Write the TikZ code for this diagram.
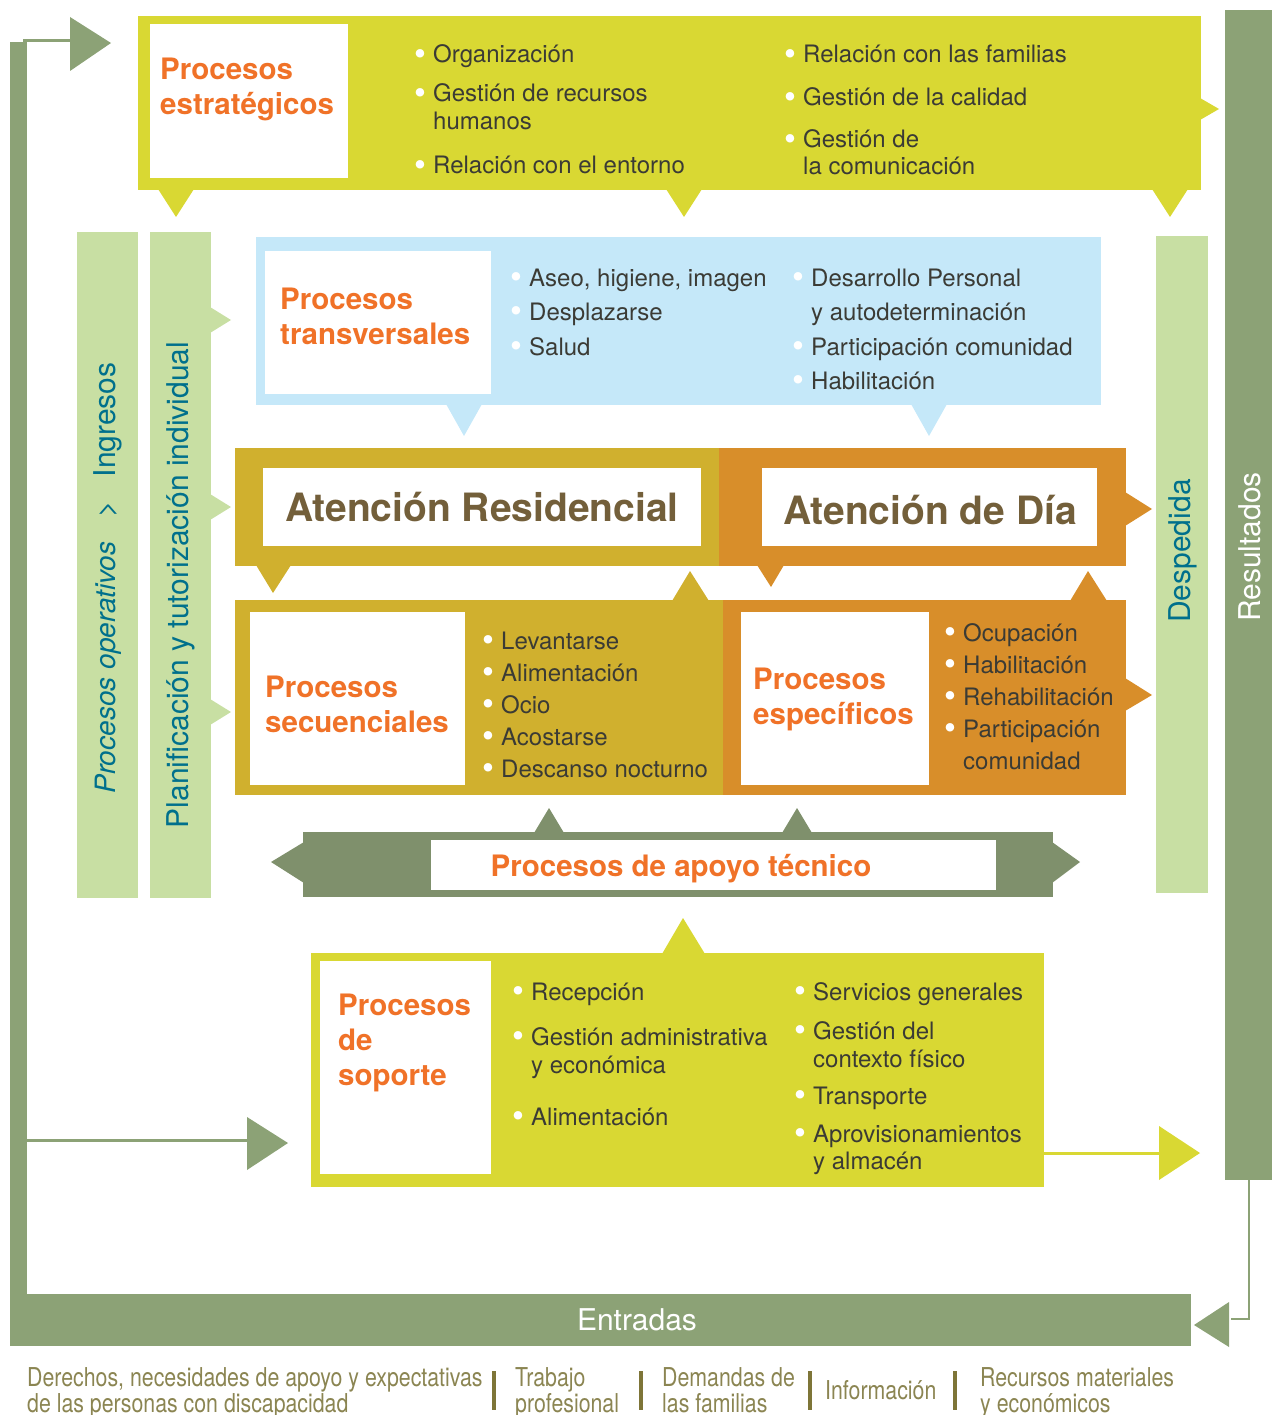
\documentclass[tikz,border=0pt]{standalone}
\usepackage{fontspec}
\setmainfont{TeX Gyre Heros}
\newfontfamily\narrowfont{TeX Gyre Heros}[FakeStretch=0.82]
\usepackage[]{xcolor}
\usepackage{tikz}
\usetikzlibrary{positioning}
\definecolor{estratgreen}{HTML}{D9D833}
\definecolor{titleorange}{HTML}{F07228}
\definecolor{transblue}{HTML}{C5E8F9}
\definecolor{resgold}{HTML}{D0B02E}
\definecolor{diaorange}{HTML}{D88E2A}
\definecolor{atbrown}{HTML}{735F3A}
\definecolor{lightgreen}{HTML}{C8DFA3}
\definecolor{tealtext}{HTML}{00708C}
\definecolor{loopgreen}{HTML}{8CA276}
\definecolor{apoyogreen}{HTML}{7F906C}
\definecolor{entryolive}{HTML}{8B8552}
\definecolor{sepolive}{HTML}{7E7538}
\definecolor{listtext}{HTML}{3B3B35}
\newcommand{\bl}{\makebox[19pt][l]{\raisebox{-2.5pt}{\fontsize{34}{34}\selectfont\textcolor{white}{\textbullet}}}}
\newcommand{\nb}{\hspace*{19pt}}
\tikzset{
		box title/.style={anchor=north west, align=left, inner sep=0pt, text=titleorange, font=\fontsize{29.5}{35}\selectfont\bfseries},
		item/.style={anchor=base west, inner sep=0pt, text=listtext, font=\fontsize{24}{28}\selectfont},
		side label/.style={rotate=90, inner sep=0pt, font=\fontsize{30}{34}\selectfont},
		big label/.style={inner sep=0pt, text=atbrown, font=\fontsize{39}{44}\selectfont\bfseries},
		entry label/.style={anchor=north west, align=left, inner sep=0pt, text=entryolive, font=\narrowfont\fontsize{26}{26}\selectfont}
	}
\begin{document}
\begin{tikzpicture}[x=1pt,y=-1pt]
		\useasboundingbox (0,0) rectangle (1272,1415);

		\fill[loopgreen] (10,42) rectangle (27,1346);
		\fill[loopgreen] (10,1294) rectangle (1191,1346);
		\fill[loopgreen] (1225,10) rectangle (1272,1180);
		\coordinate (loop-top)  at (23,41);
		\coordinate (loop-head) at (72,41);
		\draw[loopgreen, line width=3pt] (loop-top) -- (loop-head);
		\fill[loopgreen] (70,17) -- (111,43) -- (70,71) -- cycle;
		\coordinate (loop-low)  at (27,1140);
		\coordinate (loop-low-head) at (250,1140);
		\draw[loopgreen, line width=3pt] (loop-low) -- (loop-low-head);
		\fill[loopgreen] (247,1117) -- (288,1143) -- (247,1170) -- cycle;
		\coordinate (res-foot) at (1249,1180);
		\coordinate (ent-head) at (1231,1319);
		\draw[loopgreen, line width=2.5pt] (res-foot) |- (ent-head);
		\fill[loopgreen] (1229,1302) -- (1194,1325) -- (1229,1347) -- cycle;
		\node[side label, text=white] (resultados) at (1250,547) {Resultados};
		\node[text=white, inner sep=0pt, font=\fontsize{30}{34}\selectfont] (entradas) at (637,1320) {Entradas};

		\fill[estratgreen] (138,16) rectangle (1201,190);
		\fill[estratgreen] (1200,98) -- (1219,109) -- (1200,120) -- cycle;
		\foreach \px in {176,684,1170}
			\fill[estratgreen] (\px-18,189) -- (\px+18,189) -- (\px,217) -- cycle;
		\fill[white] (150,24) rectangle (348,178);
		\node[box title] (estrat-title) at (160,58) {Procesos\\estratégicos};
		\foreach \txt/\yy [count=\i] in {{\bl Organización}/55, {\bl Gestión de recursos}/94, {\nb humanos}/122, {\bl Relación con el entorno}/166}
			\node[item] (estrat-a\i) at (414,\yy+8) {\txt};
		\foreach \txt/\yy [count=\i] in {{\bl Relación con las familias}/55, {\bl Gestión de la calidad}/98, {\bl Gestión de}/140, {\nb la comunicación}/167}
			\node[item] (estrat-b\i) at (784,\yy+8) {\txt};

		\fill[lightgreen] (77,232) rectangle (138,898);
		\fill[lightgreen] (150,232) rectangle (211,898);
		\foreach \py in {320,507,712}
			\fill[lightgreen] (210,\py-13) -- (231,\py) -- (210,\py+13) -- cycle;
		\node[side label, text=tealtext, font=\fontsize{28}{32}\selectfont] (operativos) at (108,578) {\textit{Procesos operativos}\hspace{24pt}>\hspace{24pt}{\fontsize{30}{32}\selectfont Ingresos}};
		\node[side label, text=tealtext] (planificacion) at (181,585) {Planificación y tutorización individual};
		\fill[lightgreen] (1156,236) rectangle (1208,893);
		\node[side label, text=tealtext] (despedida) at (1183,551) {Despedida};

		\fill[transblue] (256,237) rectangle (1101,405);
		\foreach \px in {464,929}
			\fill[transblue] (\px-18,404) -- (\px+18,404) -- (\px,436) -- cycle;
		\fill[white] (265,251) rectangle (491,394);
		\node[box title] (trans-title) at (280,288) {Procesos\\transversales};
		\foreach \txt/\yy [count=\i] in {{\bl Aseo, higiene, imagen}/278, {\bl Desplazarse}/312, {\bl Salud}/347}
			\node[item] (trans-a\i) at (510,\yy+8) {\txt};
		\foreach \txt/\yy [count=\i] in {{\bl Desarrollo Personal}/278, {\nb y autodeterminación}/312, {\bl Participación comunidad}/347, {\bl Habilitación}/381}
			\node[item] (trans-b\i) at (792,\yy+8) {\txt};

		\fill[resgold] (235,448) rectangle (719,566);
		\fill[resgold] (256,565) -- (291,565) -- (273,593) -- cycle;
		\fill[white] (263,468) rectangle (701,546);
		\node[big label] (residencial) at (482,507) {Atención Residencial};
		\fill[diaorange] (719,448) rectangle (1126,566);
		\fill[diaorange] (1125,492) -- (1152,509) -- (1125,526) -- cycle;
		\fill[diaorange] (757,565) -- (784,565) -- (771,587) -- cycle;
		\fill[white] (762,468) rectangle (1097,546);
		\node[big label] (dia) at (930,510) {Atención de Día};

		\fill[resgold] (235,600) rectangle (723,795);
		\fill[resgold] (672,601) -- (690,571) -- (709,601) -- cycle;
		\fill[white] (250,612) rectangle (465,785);
		\node[box title] (sec-title) at (265,676) {Procesos\\secuenciales};
		\foreach \txt/\yy [count=\i] in {{\bl Levantarse}/641, {\bl Alimentación}/673, {\bl Ocio}/705, {\bl Acostarse}/737, {\bl Descanso nocturno}/769}
			\node[item] (sec-\i) at (482,\yy+8) {\txt};
		\fill[diaorange] (723,600) rectangle (1126,795);
		\fill[diaorange] (1070,601) -- (1088,571) -- (1107,601) -- cycle;
		\fill[diaorange] (1125,678) -- (1152,695) -- (1125,711) -- cycle;
		\fill[white] (741,612) rectangle (929,785);
		\node[box title] (esp-title) at (753,668) {Procesos\\específicos};
		\foreach \txt/\yy [count=\i] in {{\bl Ocupación}/633, {\bl Habilitación}/665, {\bl Rehabilitación}/697, {\bl Participación}/729, {\nb comunidad}/761}
			\node[item] (esp-\i) at (944,\yy+8) {\txt};

		\fill[apoyogreen] (303,832) rectangle (1053,897);
		\fill[apoyogreen] (304,842) -- (271,862) -- (304,883) -- cycle;
		\fill[apoyogreen] (1052,842) -- (1080,862) -- (1052,883) -- cycle;
		\foreach \px in {549,797}
			\fill[apoyogreen] (\px-15,833) -- (\px,808) -- (\px+15,833) -- cycle;
		\fill[white] (431,840) rectangle (996,890);
		\node[box title, anchor=center] (apoyo-title) at (681,869) {Procesos de apoyo técnico};

		\fill[estratgreen] (311,953) rectangle (1044,1187);
		\fill[estratgreen] (662,954) -- (683,918) -- (705,954) -- cycle;
		\fill[white] (320,961) rectangle (491,1174);
		\node[box title] (sop-title) at (338,994) {Procesos\\de\\soporte};
		\foreach \txt/\yy [count=\i] in {{\bl Recepción}/992, {\bl Gestión administrativa}/1037, {\nb y económica}/1065, {\bl Alimentación}/1117}
			\node[item] (sop-a\i) at (512,\yy+8) {\txt};
		\foreach \txt/\yy [count=\i] in {{\bl Servicios generales}/992, {\bl Gestión del}/1031, {\nb contexto físico}/1059, {\bl Transporte}/1096, {\bl Aprovisionamientos}/1134, {\nb y almacén}/1161}
			\node[item] (sop-b\i) at (794,\yy+8) {\txt};
		\coordinate (sop-out) at (1044,1153);
		\coordinate (sop-head) at (1161,1153);
		\draw[estratgreen, line width=3pt] (sop-out) -- (sop-head);
		\fill[estratgreen] (1159,1126) -- (1200,1153) -- (1159,1180) -- cycle;

		\node[entry label] (derechos) at (27,1367) {Derechos, necesidades de apoyo y expectativas\\de las personas con discapacidad};
		\node[entry label] (trabajo) at (515,1367) {Trabajo\\profesional};
		\node[entry label] (demandas) at (662,1367) {Demandas de\\las familias};
		\node[entry label, anchor=west] (informacion) at (825,1390) {Información};
		\node[entry label] (recursos) at (980,1367) {Recursos materiales\\y económicos};
		\foreach \sx in {494,641,810,955}
			\fill[sepolive] (\sx-2,1371) rectangle (\sx+2,1410);
	\end{tikzpicture}
\end{document}
